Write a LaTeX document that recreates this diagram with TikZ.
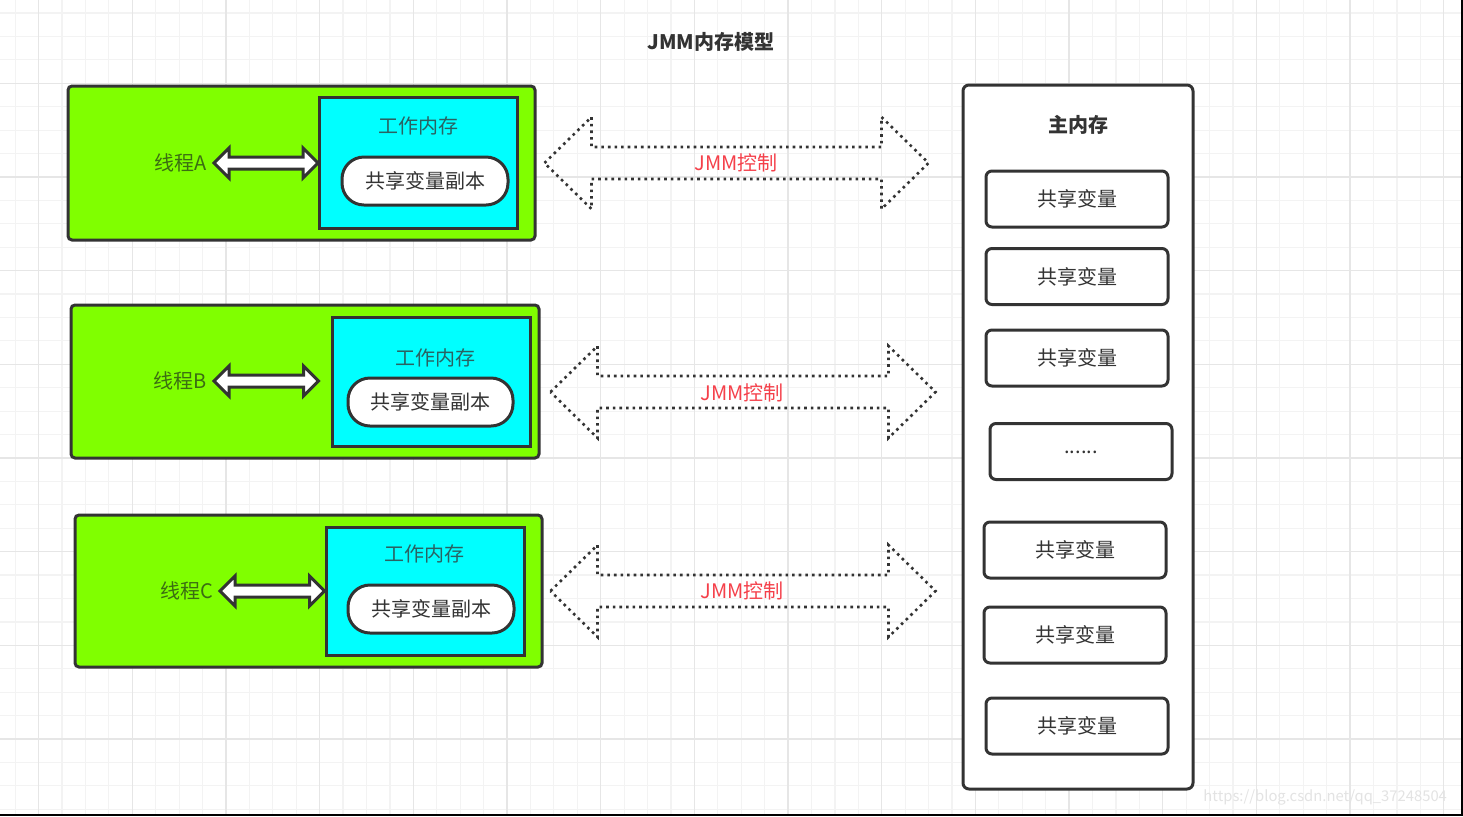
\documentclass[tikz,border=0pt]{standalone}
\usepackage{fontspec}
\setmainfont{Noto Sans CJK SC}
\usetikzlibrary{calc}
\definecolor{threadgreen}{HTML}{80FF00}
\definecolor{workcyan}{HTML}{00FFFF}
\definecolor{edge}{HTML}{333333}
\definecolor{txt}{HTML}{333333}
\definecolor{labgreen}{HTML}{3B6E12}
\definecolor{labcyan}{HTML}{2A6262}
\definecolor{ctlred}{HTML}{F5404A}
\definecolor{gridminor}{HTML}{F3F3F3}
\definecolor{gridmajor}{HTML}{E6E6E6}
\tikzset{dblpath/.style n args={3}{to path={let \p1=(\tikztostart), \p2=(\tikztotarget) in
  (\x1,\y1) -- (\x1+#1,\y1+#2) -- (\x1+#1,\y1+#3) -- (\x2-#1,\y1+#3) -- (\x2-#1,\y1+#2) -- (\x2,\y1)
  -- (\x2-#1,\y1-#2) -- (\x2-#1,\y1-#3) -- (\x1+#1,\y1-#3) -- (\x1+#1,\y1-#2) -- cycle}}}
\tikzstyle{thread}=[rectangle,draw=edge,fill=threadgreen,line width=1.5pt,rounded corners=2pt]
\tikzstyle{workmem}=[rectangle,draw=edge,fill=workcyan,line width=1.5pt,minimum width=99pt]
\tikzstyle{worklabel}=[text=labcyan]
\tikzstyle{threadlabel}=[text=labgreen,anchor=east]
\tikzstyle{copybox}=[rectangle,rounded corners=11pt,draw=edge,fill=white,line width=1.5pt,
  minimum width=83pt,minimum height=24pt,text=txt]
\tikzstyle{mainmem}=[rectangle,rounded corners=3pt,draw=edge,fill=white,line width=1.5pt]
\tikzstyle{varbox}=[rectangle,rounded corners=3pt,draw=edge,fill=white,line width=1.5pt,
  minimum width=91pt,minimum height=28pt,text=txt]
\tikzstyle{ctl}=[text=ctlred]
\tikzstyle{fatarrow}=[draw=edge,fill=white,line width=1.5pt,dblpath={7.5pt}{7.5pt}{3pt}]
\tikzstyle{jmmarrow}=[draw=edge,line width=1.3pt,dotted,dblpath={23.5pt}{23pt}{8pt}]
\begin{document}
\begin{tikzpicture}[x=0.5pt,y=-0.5pt]
    \useasboundingbox (0,0) rectangle (1463,816);
    \fill[white] (0,0) rectangle (1463,816);
    \foreach \i in {0,...,61} \draw[gridminor,line width=0.6pt] ({15.2+23.42*\i},0) -- ++(0,816);
    \foreach \j in {0,...,34} \draw[gridminor,line width=0.6pt] (0,{13+23.42*\j}) -- ++(1463,0);
    \foreach \i in {0,...,15} \draw[gridmajor,line width=0.6pt] ({38.6+93.67*\i},0) -- ++(0,816);
    \foreach \j in {1,...,8} \draw[gridmajor,line width=0.6pt] (0,{-10.4+93.67*\j}) -- ++(1463,0);

    \node[text=txt,font=\bfseries] (title) at (711,42) {JMM内存模型};

    \node[thread,minimum width=233.5pt,minimum height=77pt] (thrA) at (301.5,163) {};
    \node[workmem,minimum height=65.5pt] (wmA) at (418.5,162.5) {};
    \node[worklabel] (wmlabA) at (418,126) {工作内存};
    \node[copybox] (cpA) at (425,181) {共享变量副本};
    \node[threadlabel] (labA) at (214,163) {线程A};

    \node[thread,minimum width=234pt,minimum height=76.5pt] (thrB) at (305,381.5) {};
    \node[workmem,minimum height=64.5pt] (wmB) at (431,381.5) {};
    \node[worklabel] (wmlabB) at (435,358) {工作内存};
    \node[copybox,minimum width=82.5pt] (cpB) at (430.5,402) {共享变量副本};
    \node[threadlabel] (labB) at (214,381) {线程B};

    \node[thread,minimum width=233.5pt,minimum height=76pt] (thrC) at (308.5,591) {};
    \node[workmem,minimum height=64pt] (wmC) at (425,591) {};
    \node[worklabel] (wmlabC) at (424,554) {工作内存};
    \node[copybox] (cpC) at (431,609) {共享变量副本};
    \node[threadlabel] (labC) at (220,591) {线程C};

    \node[mainmem,minimum width=115pt,minimum height=352pt] (mem) at (1078,437) {};
    \node[text=txt,font=\bfseries] (memlab) at (1078,125) {主内存};
    \foreach \n/\x/\y in {1/1077/199,2/1077/276.5,3/1077/358,5/1075/550,6/1075/635,7/1077/726}
        \node[varbox] (var\n) at (\x,\y) {共享变量};
    \node[varbox] (var4) at (1081,451.5) {\raisebox{-2pt}{......}};

    \draw[fatarrow] (labA.east) to (wmA.west);
    \draw[fatarrow] (labB.east) to ([xshift=-6pt]wmB.west);
    \draw[fatarrow] (labC.east) to (wmC.west);

    \draw[jmmarrow] ([xshift=4pt]thrA.east) to ([xshift=-16.5pt]mem.west);
    \draw[jmmarrow] ([xshift=5pt,yshift=-5.25pt]thrB.east) to ([xshift=-13pt]mem.west);
    \draw[jmmarrow] ([xshift=3.5pt]thrC.east) to ([xshift=-13pt]mem.west);
    \node[ctl] (ctlA) at (736,163) {JMM控制};
    \node[ctl] (ctlB) at (742,393) {JMM控制};
    \node[ctl] (ctlC) at (742,591) {JMM控制};

    \node[text=gray!22,font=\fontsize{7.4}{9}\selectfont,anchor=east] (mark) at (1454,797) {https://blog.csdn.net/qq\_37248504};
    \fill[black] (1461,0) rectangle (1463,816);
    \fill[black] (0,814) rectangle (1463,816);
  \end{tikzpicture}
\end{document}
